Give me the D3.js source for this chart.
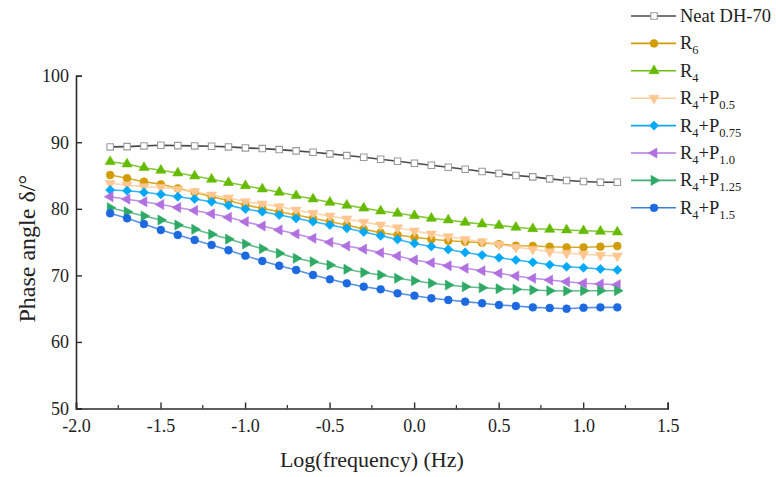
<!DOCTYPE html>
<html><head><meta charset="utf-8">
<script src="https://cdn.jsdelivr.net/npm/d3@7"></script>
<style>body{margin:0;background:#fff}svg{display:block}</style>
</head><body>
<div id="chart"></div>
<script>
const logFreq = d3.range(31).map(i => +(-1.798 + 0.1 * i).toFixed(3));
const seriesNames = ["Neat DH-70", "R6", "R4", "R4+P0.5", "R4+P0.75", "R4+P1.0", "R4+P1.25", "R4+P1.5"];
const neat = [89.3,89.35,89.45,89.55,89.5,89.45,89.4,89.3,89.15,89.05,88.9,88.7,88.5,88.25,88.0,87.75,87.45,87.15,86.85,86.55,86.25,85.95,85.6,85.3,85.0,84.8,84.5,84.25,84.1,84.0,84.0];
const r6 = [85.08,84.59,84.08,83.68,83.08,82.48,81.82,81.25,80.57,80.07,79.57,79.07,78.57,78.07,77.57,76.95,76.41,76.07,75.72,75.42,75.21,75.06,74.91,74.7,74.46,74.41,74.31,74.22,74.22,74.31,74.41];
const r4 = [87.08,86.73,86.18,85.79,85.38,84.93,84.44,83.95,83.47,82.98,82.48,81.97,81.48,80.98,80.53,80.1,79.67,79.33,78.97,78.57,78.32,77.97,77.72,77.5,77.22,77.01,76.92,76.82,76.71,76.62,76.52];
const r4p05 = [83.83,83.58,83.32,83.23,82.93,82.57,82.08,81.65,81.07,80.72,80.32,79.82,79.33,78.92,78.47,78.0,77.57,77.16,76.67,76.22,75.81,75.42,75.06,74.65,74.22,73.92,73.56,73.32,73.17,73.02,72.91];
const r4p075 = [82.83,82.72,82.48,82.18,81.82,81.48,81.07,80.52,79.97,79.57,79.07,78.57,78.07,77.57,77.07,76.52,75.95,75.4,74.8,74.35,73.9,73.45,73.05,72.65,72.31,71.97,71.6,71.3,71.15,70.96,70.81];
const r4p10 = [81.82,81.45,81.05,80.65,80.2,79.75,79.25,78.72,78.07,77.42,76.82,76.22,75.57,74.97,74.41,73.94,73.41,72.91,72.31,71.9,71.45,71.06,70.7,70.31,69.91,69.56,69.3,69.05,68.81,68.71,68.6];
const r4p125 = [80.17,79.57,78.92,78.32,77.57,76.92,76.17,75.45,74.71,74.01,73.32,72.57,72.06,71.56,70.91,70.43,70.06,69.56,69.2,68.81,68.55,68.3,68.15,68.0,67.91,67.8,67.7,67.65,67.7,67.7,67.7];
const r4p15 = [79.33,78.58,77.72,76.82,76.07,75.32,74.57,73.78,72.96,72.16,71.45,70.81,70.06,69.41,68.81,68.3,67.91,67.31,66.95,66.56,66.3,66.05,65.81,65.55,65.4,65.2,65.1,64.99,65.14,65.2,65.2];
const xTicks = [-2.0,-1.5,-1.0,-0.5,0.0,0.5,1.0,1.5];
const yTicks = [50,60,70,80,90,100];

const styles = [
  {data: neat,   line:"#4a4a4a", fill:"#ffffff", stroke:"#9a9a9a", sym:d3.symbolSquare,   rot:0,   size:42, label:["Neat DH-70"]},
  {data: r6,     line:"#d29c06", fill:"#d29c06", stroke:"#d29c06", sym:d3.symbolCircle,   rot:0,   size:48, label:["R","6"]},
  {data: r4,     line:"#6cbf12", fill:"#66bb00", stroke:"#66bb00", sym:d3.symbolTriangle, rot:0,   size:44, label:["R","4"]},
  {data: r4p05,  line:"#ffcc99", fill:"#ffc690", stroke:"#ffc690", sym:d3.symbolTriangle, rot:180, size:44, label:["R","4","+P","0.5"]},
  {data: r4p075, line:"#10a8f0", fill:"#00a8f8", stroke:"#00a8f8", sym:d3.symbolSquare,   rot:45,  size:42, label:["R","4","+P","0.75"]},
  {data: r4p10,  line:"#b47ae0", fill:"#b070e0", stroke:"#b070e0", sym:d3.symbolTriangle, rot:-90, size:44, label:["R","4","+P","1.0"]},
  {data: r4p125, line:"#44b077", fill:"#2eaa66", stroke:"#2eaa66", sym:d3.symbolTriangle, rot:90,  size:44, label:["R","4","+P","1.25"]},
  {data: r4p15,  line:"#3a7ee0", fill:"#1d6ae0", stroke:"#1d6ae0", sym:d3.symbolCircle,   rot:0,   size:48, label:["R","4","+P","1.5"]}
];

const W = 776, H = 477;
const svg = d3.select("#chart").append("svg").attr("width", W).attr("height", H);
const x = d3.scaleLinear().domain([-2, 1.5]).range([76, 667.7]);
const y = d3.scaleLinear().domain([50, 100]).range([408.5, 75.7]);
const font = "'Liberation Serif', 'Times New Roman', serif";

// axes
const xAxis = d3.axisBottom(x).tickValues(xTicks).tickSize(-6).tickPadding(9).tickFormat(d => d.toFixed(1));
const gx = svg.append("g").attr("transform", `translate(0,${y(50)})`).call(xAxis);
const yAxis = d3.axisLeft(y).tickValues(yTicks).tickSize(-6).tickPadding(7).tickFormat(d => d.toString());
const gy = svg.append("g").attr("transform", `translate(${x(-2)},0)`).call(yAxis);
[gx, gy].forEach(g => {
  g.select(".domain").attr("stroke", "#2b2b2b").attr("stroke-width", 1.6);
  g.selectAll(".tick line").attr("stroke", "#2b2b2b").attr("stroke-width", 1.4);
  g.selectAll(".tick text").attr("font-family", font).attr("font-size", 18).attr("fill", "#222");
});
gx.selectAll(".tick text").attr("dy", "0.8em");
// x minor ticks
const xMinor = xTicks.slice(0, -1).map(v => v + 0.25);
svg.append("g").selectAll("line").data(xMinor).join("line")
  .attr("x1", d => x(d)).attr("x2", d => x(d))
  .attr("y1", y(50)).attr("y2", y(50) - 3.5)
  .attr("stroke", "#2b2b2b").attr("stroke-width", 1.2);

// axis titles
svg.append("text").attr("x", x(-0.25)).attr("y", 467).attr("text-anchor", "middle")
  .attr("font-family", font).attr("font-size", 22).attr("fill", "#222").text("Log(frequency) (Hz)");
svg.append("text").attr("transform", `translate(35,${y(74)}) rotate(-90)`).attr("text-anchor", "middle")
  .attr("font-family", font).attr("font-size", 24).attr("fill", "#222").text("Phase angle δ/°");

// series
const line = d3.line().x((d, i) => x(logFreq[i])).y(d => y(d));
styles.forEach(s => {
  const g = svg.append("g");
  g.append("path").datum(s.data).attr("d", line).attr("fill", "none")
    .attr("stroke", s.line).attr("stroke-width", 1.6).attr("stroke-opacity", s.data === neat ? 1 : 0.85);
  const sym = d3.symbol().type(s.sym).size(s.size);
  g.selectAll("path.m").data(s.data).join("path").attr("class", "m")
    .attr("d", sym)
    .attr("transform", (d, i) => `translate(${x(logFreq[i])},${y(d)}) rotate(${s.rot})`)
    .attr("fill", s.fill).attr("stroke", s.stroke).attr("stroke-width", s.data === neat ? 1.1 : 0.6);
});

// legend
const lg = svg.append("g");
styles.forEach((s, i) => {
  const ly = 16 + i * 27.4;
  lg.append("line").attr("x1", 631).attr("x2", 676).attr("y1", ly).attr("y2", ly)
    .attr("stroke", s.line).attr("stroke-width", 1.6);
  lg.append("path").attr("d", d3.symbol().type(s.sym).size(s.size)())
    .attr("transform", `translate(654,${ly}) rotate(${s.rot})`)
    .attr("fill", s.fill).attr("stroke", s.stroke).attr("stroke-width", s.data === neat ? 1.1 : 0.6);
  const t = lg.append("text").attr("x", 680).attr("y", ly + 6)
    .attr("font-family", font).attr("font-size", 18.5).attr("fill", "#222");
  s.label.forEach((part, k) => {
    const isSub = k % 2 === 1;
    t.append("tspan").text(part)
      .attr("font-size", isSub ? 12.5 : 18.5)
      .attr("dy", k === 0 ? 0 : (isSub ? 5 : -5));
  });
});
</script>
</body></html>
